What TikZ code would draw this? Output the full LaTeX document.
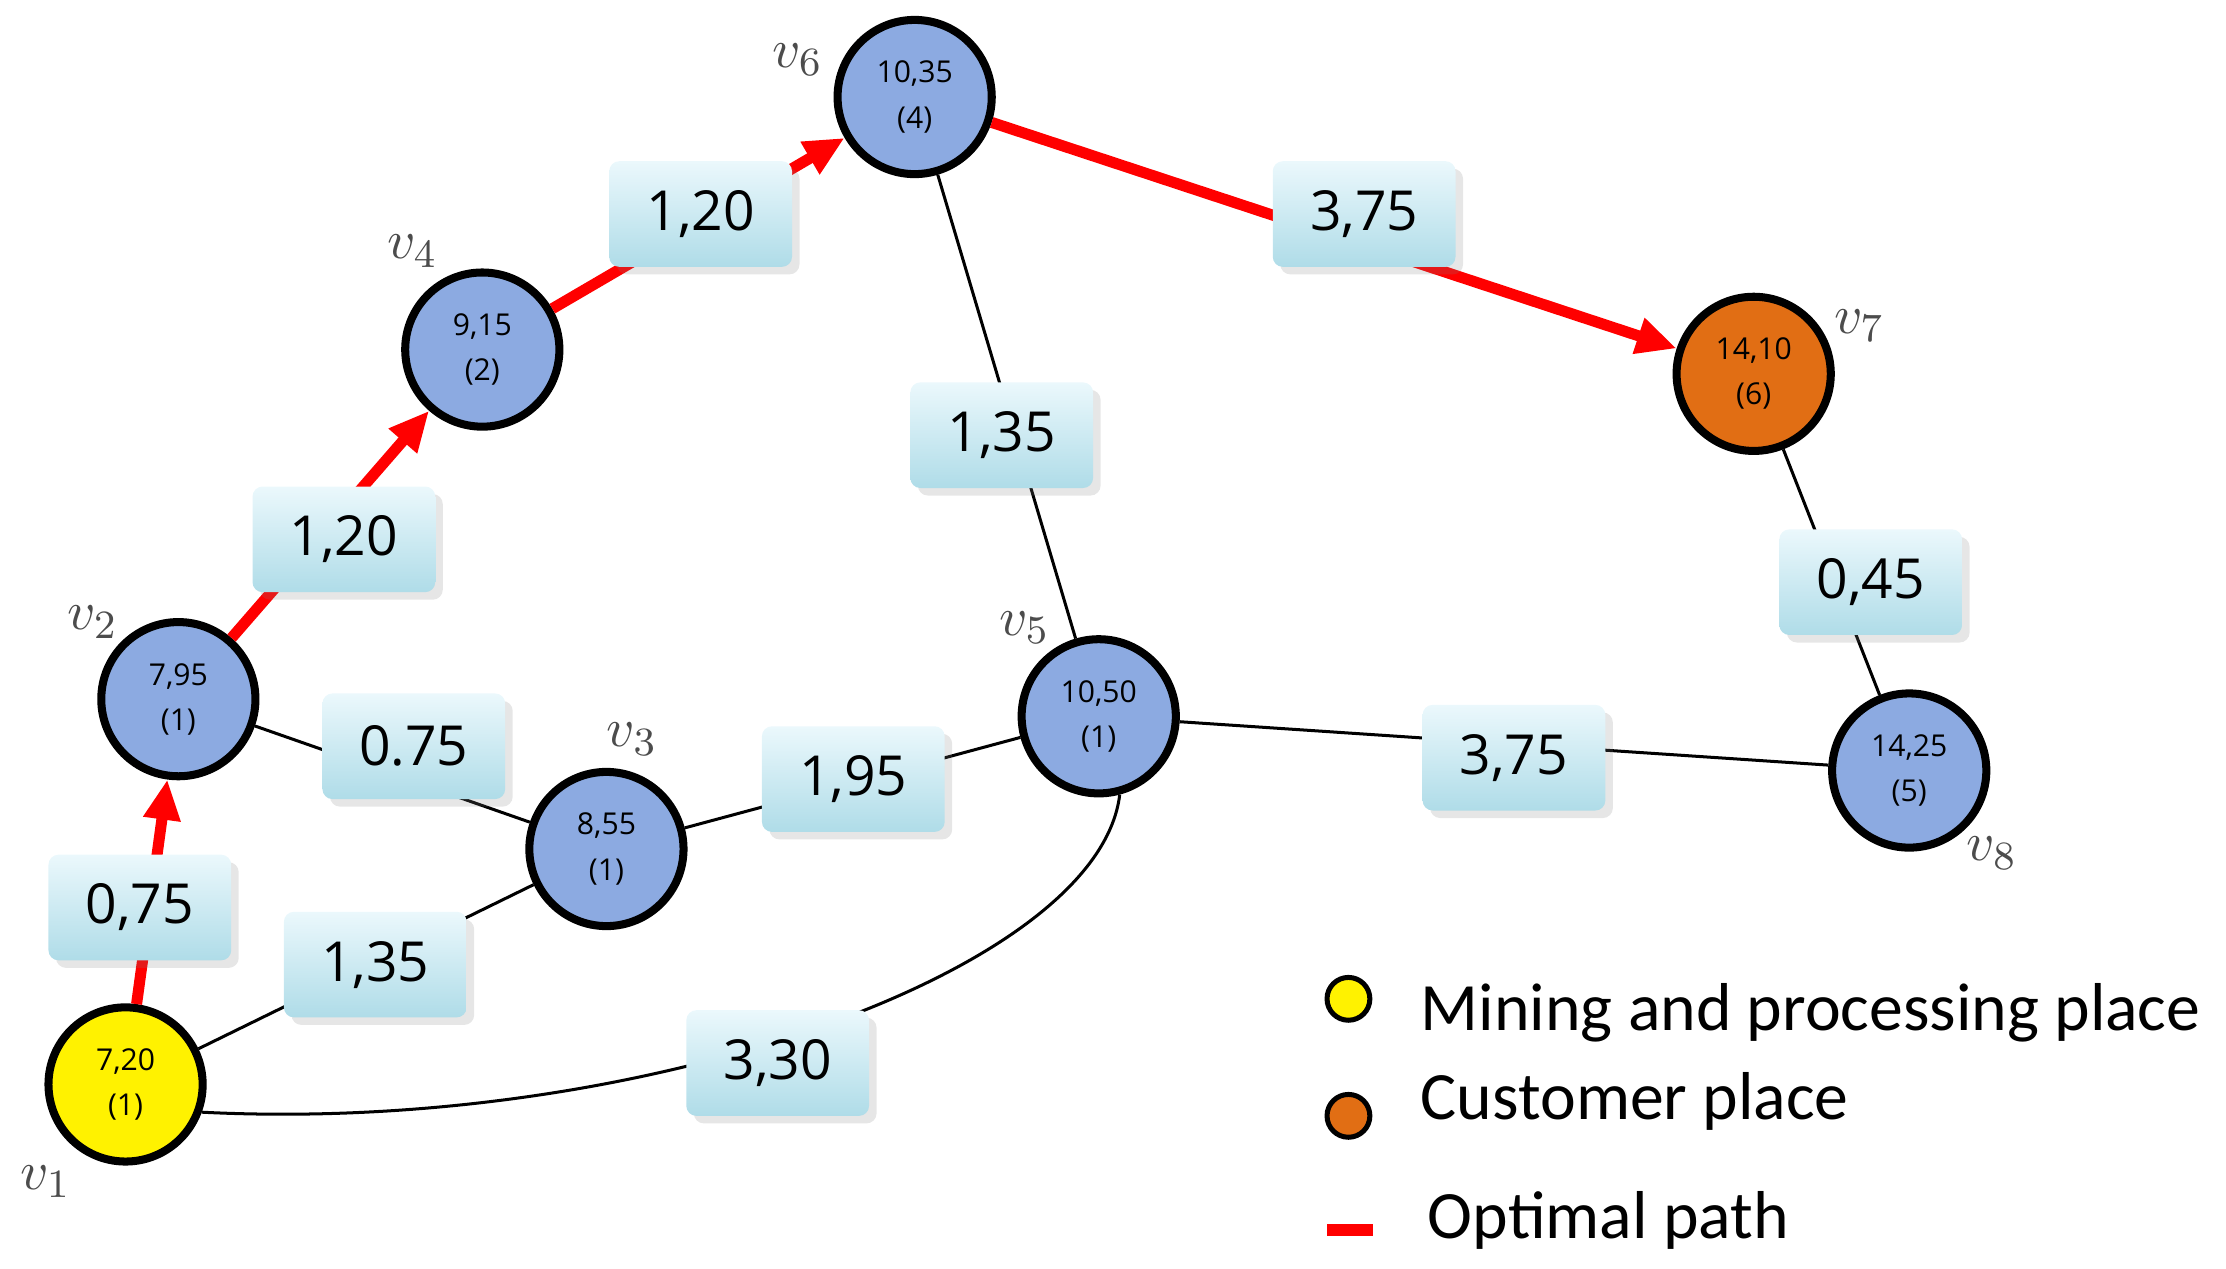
\documentclass[tikz,border=0pt]{standalone}
\usepackage{fontspec}
\setmainfont{Open Sans}
\newfontfamily\legfont{Carlito}
\usetikzlibrary{shadows,arrows.meta}
\begin{document}
\begin{tikzpicture}[x=0.01cm,y=-0.01cm,
 v/.style={circle,draw=black,line width=1.6pt,minimum size=1.08cm,inner sep=0pt,fill={rgb,255:red,140;green,170;blue,225},font=\fontsize{6}{8}\selectfont,align=center},
 w/.style={rectangle,rounded corners=2pt,minimum width=1.28cm,minimum height=0.74cm,top color={rgb,255:red,235;green,248;blue,252},bottom color={rgb,255:red,175;green,220;blue,232},draw=none,drop shadow={opacity=0.2,shadow xshift=1.5pt,shadow yshift=-1.5pt},font=\fontsize{11}{13}\selectfont},
 opt/.style={red,line width=2.2pt,-{Triangle[length=8pt,width=7pt]}},
 e/.style={black,line width=0.6pt},
 lab/.style={font=\fontsize{11}{13}\selectfont,text=black!70},
 leg/.style={anchor=west,inner sep=0pt,font=\legfont\fontsize{13.5}{16}\selectfont}]
\useasboundingbox (0,0) rectangle (1560,889);
\node[v,fill=yellow] (v1) at (88,760) {7,20\\[1pt](1)};
\node[v] (v2) at (125,490) {7,95\\[1pt](1)};
\node[v] (v3) at (425,595) {8,55\\[1pt](1)};
\node[v] (v4) at (338,245) {9,15\\[1pt](2)};
\node[v] (v5) at (770,502) {10,50\\[1pt](1)};
\node[v] (v6) at (641,68) {10,35\\[1pt](4)};
\node[v,fill={rgb,255:red,225;green,110;blue,20}] (v7) at (1229,262) {14,10\\[1pt](6)};
\node[v] (v8) at (1338,540) {14,25\\[1pt](5)};
\node[lab] (l1) at (32,828) {$v_1$};
\node[lab] (l2) at (65,436) {$v_2$};
\node[lab] (l3) at (443,518) {$v_3$};
\node[lab] (l4) at (289,176) {$v_4$};
\node[lab] (l5) at (718,440) {$v_5$};
\node[lab] (l6) at (559,42) {$v_6$};
\node[lab] (l7) at (1303,228) {$v_7$};
\node[lab] (l8) at (1396,598) {$v_8$};
\draw[e] (v1) -- (v3);
\draw[e] (v2) -- (v3);
\draw[e] (v3) -- (v5);
\draw[e] (v5) -- (v6);
\draw[e] (v5) -- (v8);
\draw[e] (v7) -- (v8);
\draw[e] (v1.-20) .. controls (450,795) and (770,680) .. (v5.-75);
\draw[opt] (v1) -- (v2);
\draw[opt] (v2) -- (v4);
\draw[opt] (v4) -- (v6);
\draw[opt] (v6) -- (v7);
\node[w] (a) at (98,636) {0,75};
\node[w] (b) at (263,676) {1,35};
\node[w] (c) at (545,745) {3,30};
\node[w] (d) at (290,523) {0.75};
\node[w] (f) at (598,546) {1,95};
\node[w] (g) at (241,378) {1,20};
\node[w] (h) at (491,150) {1,20};
\node[w] (i) at (702,305) {1,35};
\node[w] (j) at (956,150) {3,75};
\node[w] (k) at (1061,531) {3,75};
\node[w] (m) at (1311,408) {0,45};
\node[circle,draw=black,line width=1pt,fill=yellow,minimum size=0.3cm,inner sep=0pt] (y) at (945,700) {};
\node[circle,draw=black,line width=1pt,fill={rgb,255:red,225;green,110;blue,20},minimum size=0.3cm,inner sep=0pt] (o) at (945,782) {};
\coordinate (r1) at (930,862); \coordinate (r2) at (962,862);
\draw[red,line width=2.5pt] (r1) -- (r2);
\node[leg] (t1) at (995,710) {Mining and processing place};
\node[leg] (t2) at (995,772) {Customer place};
\node[leg] (t3) at (1000,855) {Optimal path};
\end{tikzpicture}
\end{document}
